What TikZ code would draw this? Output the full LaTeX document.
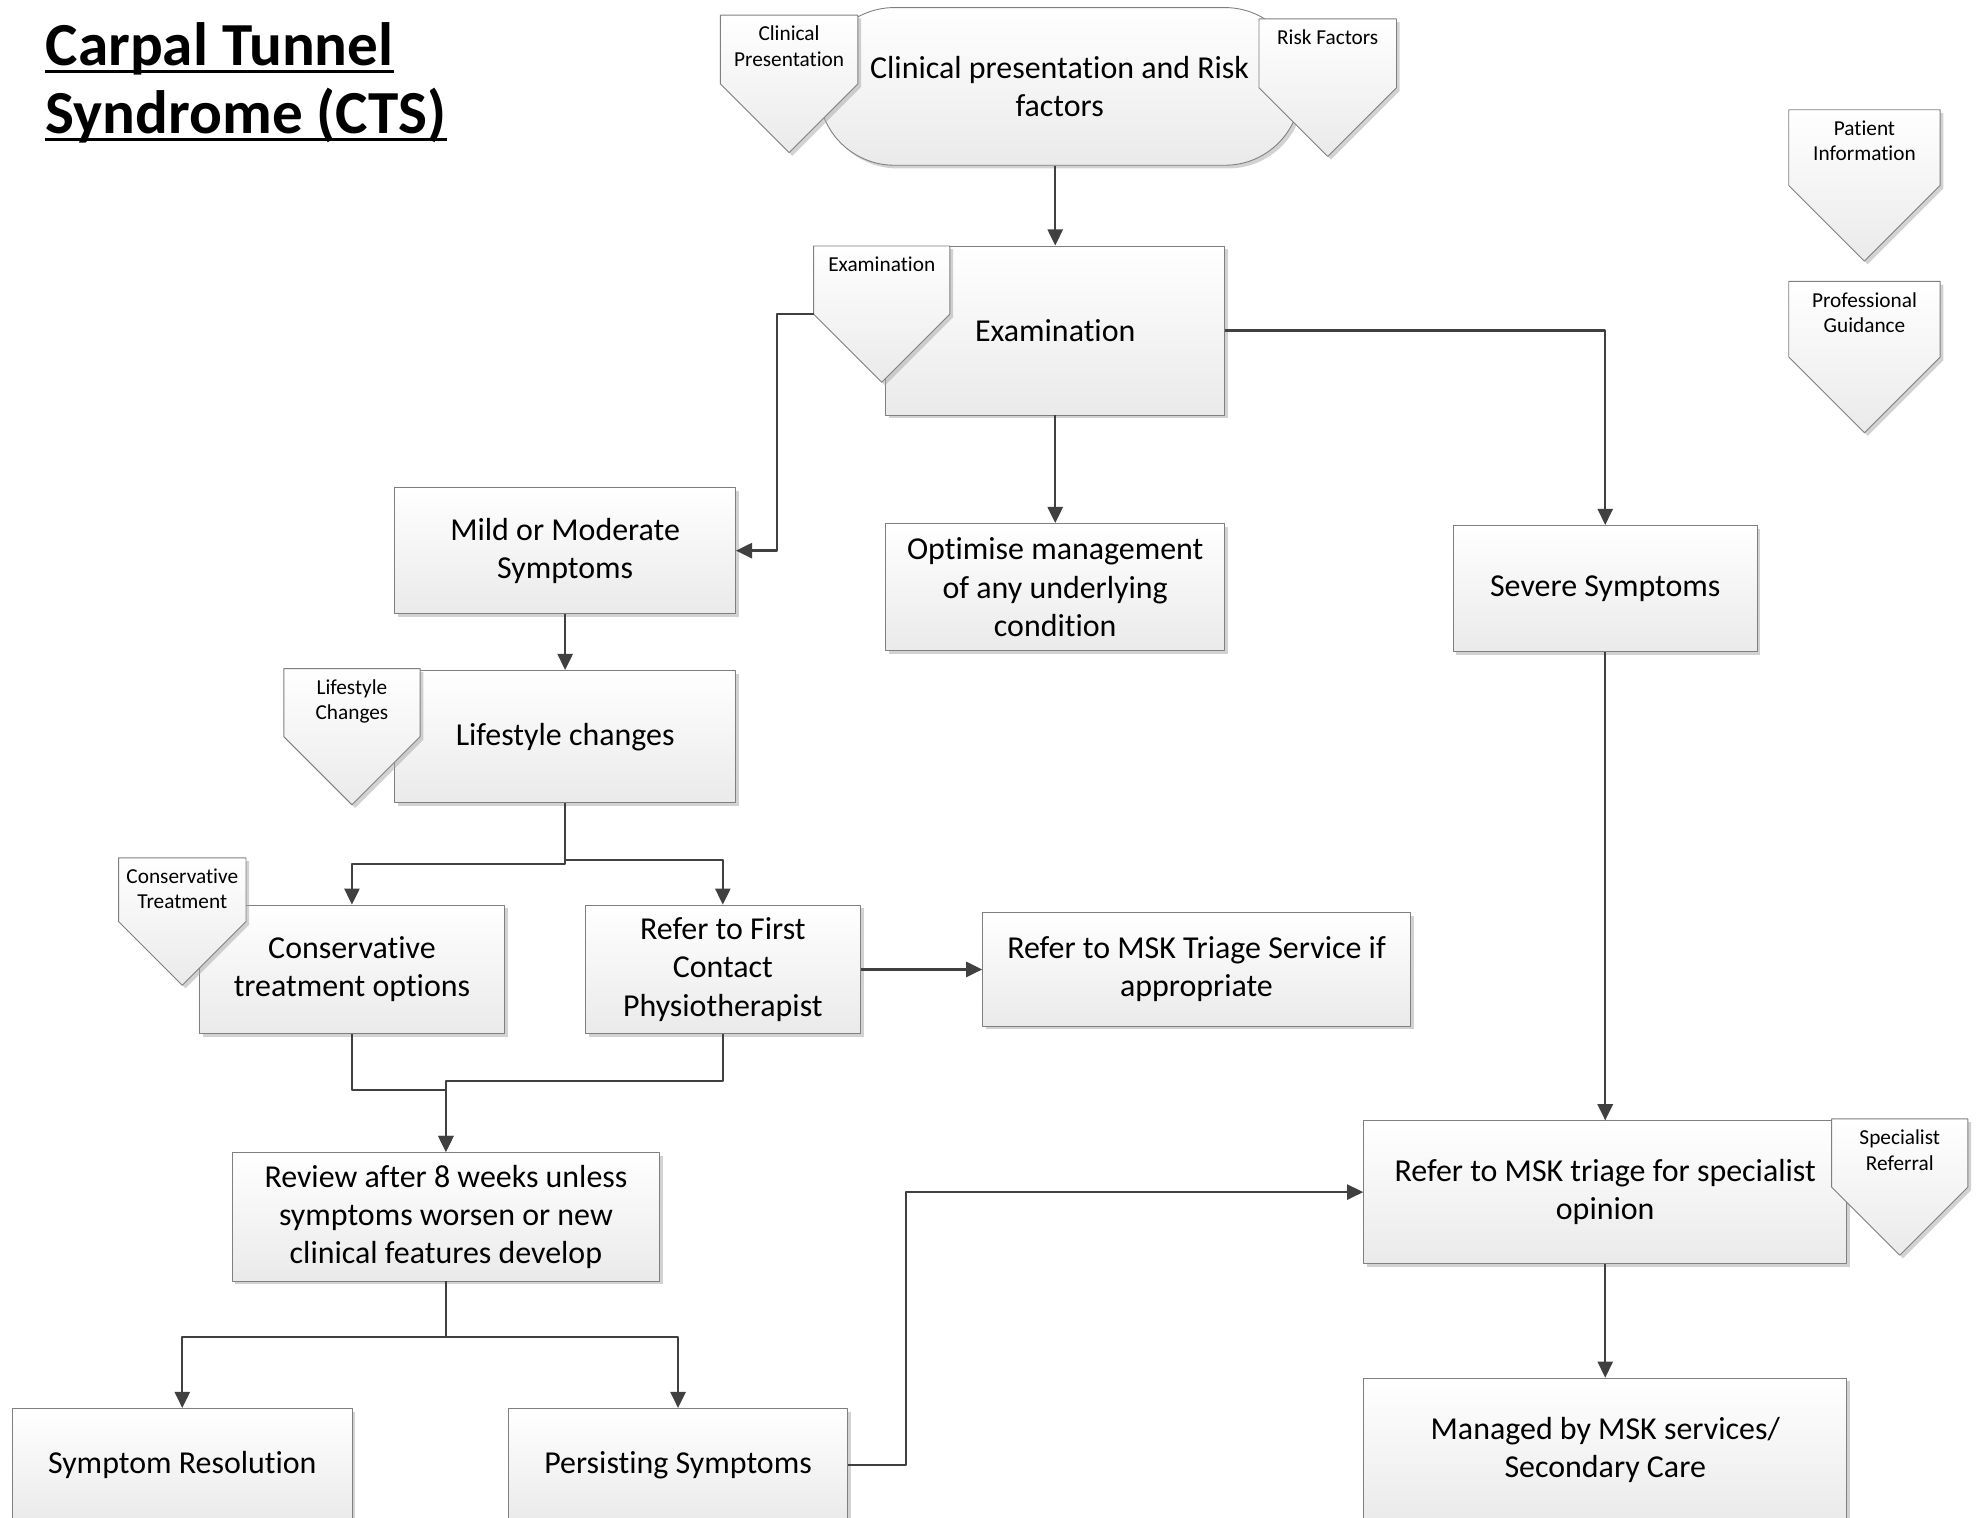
\documentclass[tikz,border=0pt]{standalone}
\usepackage{fontspec}
\setmainfont{Carlito}[Ligatures=NoCommon]
\usetikzlibrary{arrows.meta,shadows}
\definecolor{boxline}{HTML}{7F7F7F}
\definecolor{linkgray}{HTML}{404040}
\definecolor{boxbot}{HTML}{EAEAEA}
\tikzset{
  procbox/.style 2 args={draw=boxline, line width=0.5pt, top color=white, bottom color=boxbot,
    drop shadow={shadow xshift=1.8pt, shadow yshift=-1.8pt, fill=black!35, opacity=0.5},
    minimum width=#1*0.025cm, minimum height=#2*0.025cm, align=center, inner sep=2pt,
    font=\fontsize{18}{21.5}\selectfont},
  cue/.style={draw=boxline, line width=0.5pt, top color=white, bottom color=boxbot,
    drop shadow={shadow xshift=1.8pt, shadow yshift=-1.8pt, fill=black!35, opacity=0.5}},
  cuetext/.style={anchor=north, inner sep=0pt, align=center, font=\fontsize{12}{14.3}\selectfont},
  heading/.style={anchor=base west, inner sep=0pt, font=\bfseries\fontsize{34.5}{38}\selectfont},
  link/.style={draw=linkgray, line width=1.3pt, -{Triangle[length=0.32cm,width=0.3cm]}}
}
\begin{document}
\begin{tikzpicture}[x=0.025cm, y=-0.025cm, line join=round]
  \useasboundingbox (0,0) rectangle (1568,1203);
  \clip (0,0) rectangle (1568,1203);
  % title
  \node[heading] (ttl1) at (36,52) {Carpal Tunnel};
  \node[heading] (ttl2) at (36,106) {Syndrome (CTS)};
  \draw[line width=1.7pt] ([yshift=-3.5pt]ttl1.base west) -- ([yshift=-3.5pt]ttl1.base east);
  \draw[line width=1.7pt] ([yshift=-3.5pt]ttl2.base west) -- ([yshift=-3.5pt]ttl2.base east);
  % process boxes
  \node[procbox={382}{125}, rounded corners=1.5cm] (start) at (840,68.5) {Clinical presentation and Risk\\factors};
  \node[procbox={269}{134}] (exam) at (836.5,262) {Examination};
  \node[procbox={270}{100}] (mild) at (448,436.5) {Mild or Moderate\\Symptoms};
  \node[procbox={269}{101}] (optim) at (836.5,465.5) {Optimise management\\of any underlying\\condition};
  \node[procbox={241}{100}] (severe) at (1272.5,466.5) {Severe Symptoms};
  \node[procbox={270}{105}] (life) at (448,584) {Lifestyle changes};
  \node[procbox={242}{102}] (conserv) at (279,768.5) {Conservative\\treatment options};
  \node[procbox={218}{102}] (physio) at (573,768.5) {Refer to First\\Contact\\Physiotherapist};
  \node[procbox={339}{90}] (triage) at (948.5,768.5) {Refer to MSK Triage Service if\\appropriate};
  \node[procbox={339}{102}] (review) at (353.5,964.5) {Review after 8 weeks unless\\symptoms worsen or new\\clinical features develop};
  \node[procbox={269}{90}] (resolved) at (144.5,1161.5) {Symptom Resolution};
  \node[procbox={269}{90}] (persist) at (537.5,1161.5) {Persisting Symptoms};
  \node[procbox={383}{113}] (special) at (1272.5,945) {Refer to MSK triage for specialist\\opinion};
  \node[procbox={383}{114}] (managed) at (1272.5,1149.5) {Managed by MSK services/\\Secondary Care};
  % off-page cues
  \foreach \nm/\x/\y/\w/\txt in {cp/571/12/109/{Clinical\\Presentation},%
    rf/998/15/109/{Risk Factors},%
    pi/1418/87/120/{Patient\\Information},%
    pg/1418/223/120/{Professional\\Guidance},%
    extag/645/195/108/{Examination},%
    lctag/225/530/108/{Lifestyle\\Changes},%
    cttag/94/680/101/{Conservative\\Treatment},%
    srtag/1452/887/108/{Specialist\\Referral}}
  {
    \path[cue] (\x,\y) -- ++(\w,0) -- ++(0,\w/2) -- ++(-\w/2,\w/2) -- ++(-\w/2,-\w/2) -- cycle;
    \node[cuetext] (\nm) at (\x+\w/2,\y+8.5) {\txt};
    \coordinate (\nm-sw) at (\x,\y+\w/2);
  }
  % connectors
  \draw[link] (start.south -| exam.north) -- (exam.north);
  \draw[link] (extag-sw) -- ++(-29,0) |- (mild.east);
  \draw[link] (exam.east) -| (severe.north);
  \draw[link] (exam.south) -- (optim.north);
  \draw[link] (mild.south) -- (life.north);
  \draw[link] (life.south) -- ++(0,48) -| (conserv.north);
  \draw[link] (life.south) -- ++(0,45) -| (physio.north);
  \draw[link] (physio.east) -- (triage.west);
  \draw[link] (conserv.south) -- ++(0,44) -| (review.north);
  \draw[link] (physio.south) -- ++(0,37) -| (review.north);
  \draw[link] (review.south) -- ++(0,44) -| (resolved.north);
  \draw[link] (review.south) -- ++(0,44) -| (persist.north);
  \draw[link] (persist.east) -- ++(46,0) |- (special.west);
  \draw[link] (severe.south) -- (special.north);
  \draw[link] (special.south) -- (managed.north);
\end{tikzpicture}
\end{document}
